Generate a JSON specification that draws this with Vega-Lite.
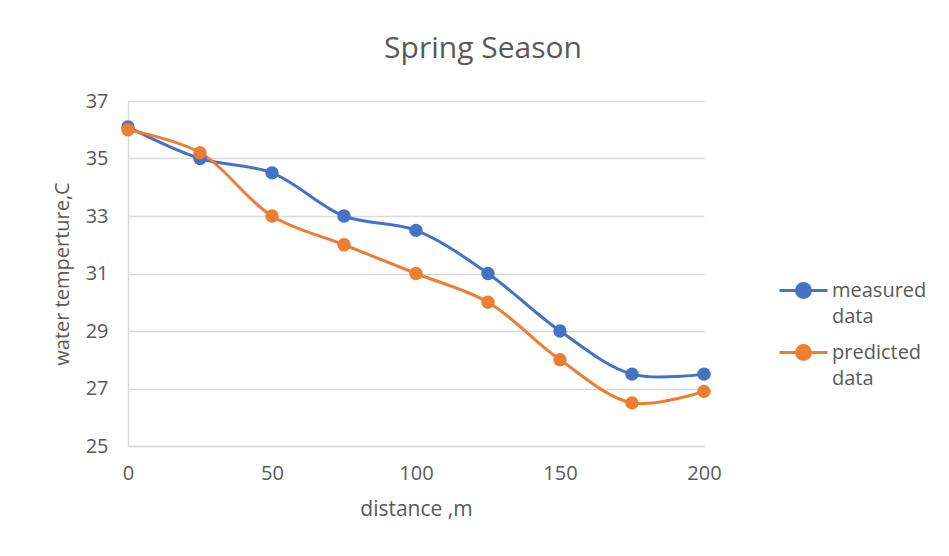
{
  "$schema": "https://vega.github.io/schema/vega-lite/v6.json",
  "width": 576,
  "height": 345,
  "autosize": {"type": "none"},
  "padding": {"left": 128, "top": 101, "right": 245, "bottom": 110},
  "background": "white",
  "title": {
    "text": "Spring Season",
    "fontSize": 30,
    "font": "Open Sans",
    "fontWeight": "normal",
    "color": "#595959",
    "anchor": "middle",
    "dx": 67,
    "offset": 27
  },
  "data": {
    "values": [
      {"distance": 0, "series": "measured data", "temp": 36.1},
      {"distance": 25, "series": "measured data", "temp": 35.0},
      {"distance": 50, "series": "measured data", "temp": 34.5},
      {"distance": 75, "series": "measured data", "temp": 33.0},
      {"distance": 100, "series": "measured data", "temp": 32.5},
      {"distance": 125, "series": "measured data", "temp": 31.0},
      {"distance": 150, "series": "measured data", "temp": 29.0},
      {"distance": 175, "series": "measured data", "temp": 27.5},
      {"distance": 200, "series": "measured data", "temp": 27.5},
      {"distance": 0, "series": "predicted data", "temp": 36.0},
      {"distance": 25, "series": "predicted data", "temp": 35.2},
      {"distance": 50, "series": "predicted data", "temp": 33.0},
      {"distance": 75, "series": "predicted data", "temp": 32.0},
      {"distance": 100, "series": "predicted data", "temp": 31.0},
      {"distance": 125, "series": "predicted data", "temp": 30.0},
      {"distance": 150, "series": "predicted data", "temp": 28.0},
      {"distance": 175, "series": "predicted data", "temp": 26.5},
      {"distance": 200, "series": "predicted data", "temp": 26.9}
    ]
  },
  "encoding": {
    "x": {
      "field": "distance",
      "type": "quantitative",
      "scale": {"domain": [0, 200], "nice": false},
      "axis": {
        "title": "distance ,m",
        "values": [0, 50, 100, 150, 200],
        "grid": false,
        "ticks": false,
        "labelFlush": false,
        "domainColor": "#d9d9d9",
        "domainWidth": 1.5,
        "labelPadding": 17,
        "labelFontSize": 20,
        "labelColor": "#595959",
        "labelFont": "Open Sans",
        "titleFont": "Open Sans",
        "titleFontSize": 21,
        "titleFontWeight": "normal",
        "titleColor": "#595959",
        "titlePadding": 15
      }
    },
    "y": {
      "field": "temp",
      "type": "quantitative",
      "scale": {"domain": [25, 37], "nice": false, "zero": false},
      "axis": {
        "title": "water temperture,C",
        "values": [25, 27, 29, 31, 33, 35, 37],
        "grid": true,
        "gridColor": "#d9d9d9",
        "gridWidth": 1.5,
        "ticks": false,
        "labelFlush": false,
        "domainColor": "#d9d9d9",
        "domainWidth": 1.5,
        "labelPadding": 20,
        "labelFontSize": 20,
        "labelColor": "#595959",
        "labelFont": "Open Sans",
        "titleFont": "Open Sans",
        "titleFontSize": 20,
        "titleFontWeight": "normal",
        "titleColor": "#595959",
        "titlePadding": 13
      }
    },
    "color": {
      "field": "series",
      "type": "nominal",
      "scale": {"domain": ["measured data", "predicted data"], "range": ["#4472C4", "#ED7D31"]},
      "legend": {
        "title": null,
        "orient": "none",
        "legendX": 650,
        "legendY": 164,
        "symbolType": "M-1,0H1M0.29,0A0.29,0.29 0 1 1 -0.29,0A0.29,0.29 0 1 1 0.29,0",
        "symbolSize": 2304,
        "symbolStrokeWidth": 3,
        "symbolOpacity": 1,
        "labelExpr": "split(datum.label, ' ')",
        "labelFontSize": 20,
        "labelFont": "Open Sans",
        "labelColor": "#595959",
        "labelOffset": 3,
        "rowPadding": -2,
        "encode": {"labels": {"update": {"lineHeight": {"value": 26}}}}
      }
    }
  },
  "layer": [
    {"mark": {"type": "line", "interpolate": "catmull-rom", "strokeWidth": 3}},
    {"mark": {"type": "point", "filled": true, "size": 180, "opacity": 1, "shape": "circle"}}
  ],
  "config": {"view": {"stroke": null}}
}
